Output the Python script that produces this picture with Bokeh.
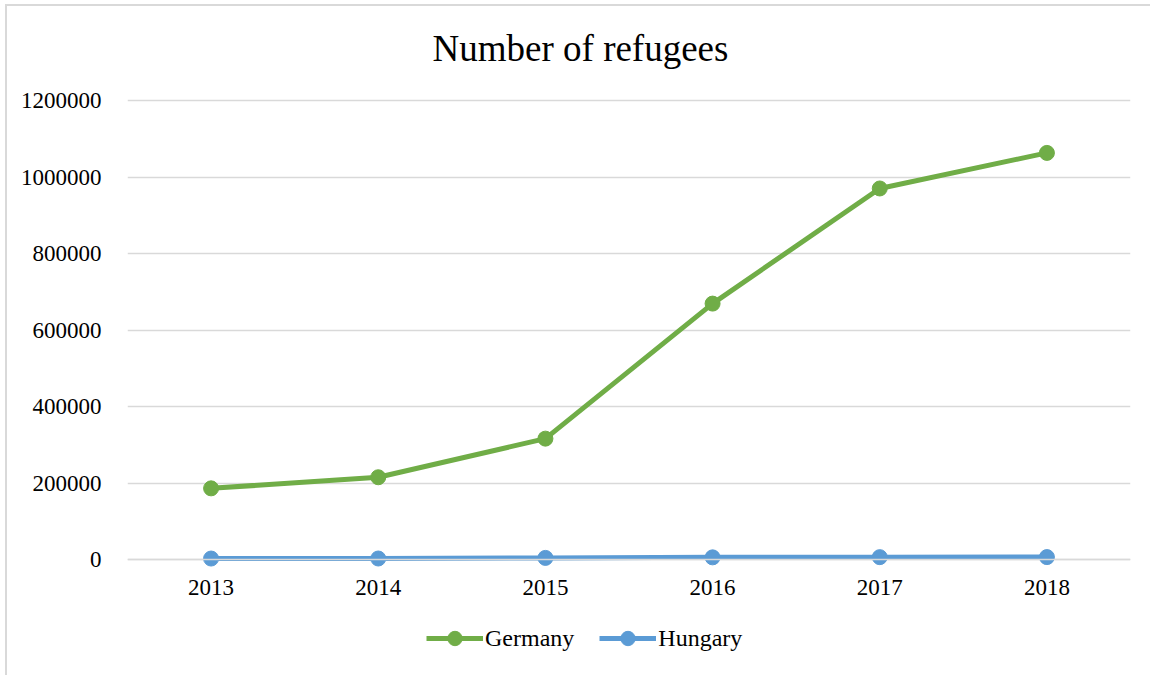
from bokeh.plotting import figure
from bokeh.models import Legend, LegendItem, Range1d, FixedTicker, NumeralTickFormatter, Label
from bokeh.embed import file_html
from bokeh.resources import INLINE

years = ["2013", "2014", "2015", "2016", "2017", "2018"]
germany = [186000, 215000, 316000, 669000, 970000, 1063000]
hungary = [2500, 2600, 4200, 5600, 6200, 6300]
y_ticks = [0, 200000, 400000, 600000, 800000, 1000000, 1200000]
title_text = "Number of refugees"

GREEN = "#70AD47"
BLUE = "#5B9BD5"
GRID = "#D9D9D9"
FONT = "Liberation Serif"

# frame spans the full height; the value axis occupies the middle band
FIG_H = 671
AXIS_TOP_PX = 94      # px from frame top to the 1200000 gridline
AXIS_BOT_PX = 553     # px from frame top to the 0 line
per_px = y_ticks[-1] / (AXIS_BOT_PX - AXIS_TOP_PX)
y_start = -(FIG_H - AXIS_BOT_PX) * per_px
y_end = y_ticks[-1] + AXIS_TOP_PX * per_px

p = figure(width=1145, height=FIG_H, x_range=years, y_range=Range1d(y_start, y_end),
           output_backend="svg", toolbar_location=None,
           min_border_left=120, min_border_right=22, min_border_top=0, min_border_bottom=0)
p.margin = (4, 0, 0, 5)
p.styles = {"border-top": "2px solid #D9D9D9", "border-left": "2px solid #D9D9D9"}
p.x_range.range_padding = 0
p.outline_line_color = None

gl = p.line(years, germany, line_color=GREEN, line_width=5)
gs = p.scatter(years, germany, size=15, fill_color=GREEN, line_color=GREEN)
hl = p.line(years, hungary, line_color=BLUE, line_width=5)
hs = p.scatter(years, hungary, size=15, fill_color=BLUE, line_color=BLUE)

p.xgrid.grid_line_color = None
p.ygrid.grid_line_color = GRID
p.ygrid.grid_line_width = 1.5
p.yaxis.ticker = FixedTicker(ticks=y_ticks)
p.yaxis.formatter = NumeralTickFormatter(format="0")
p.yaxis.axis_line_color = None
p.yaxis.major_tick_line_color = None
p.yaxis.minor_tick_line_color = None
p.yaxis.major_label_standoff = 20
p.xaxis.fixed_location = 0
p.xaxis.axis_line_color = GRID
p.xaxis.axis_line_width = 1.5
p.xaxis.major_tick_line_color = None
p.xaxis.minor_tick_line_color = None
p.xaxis.major_label_standoff = 14
for ax in (p.xaxis, p.yaxis):
    ax.major_label_text_font = FONT
    ax.major_label_text_font_size = "23px"
    ax.major_label_text_color = "black"

title = Label(x=453, y=FIG_H - 42, x_units="screen", y_units="screen", text=title_text,
              text_font=FONT, text_font_size="37px", text_color="black",
              text_align="center", text_baseline="alphabetic")
p.add_layout(title)

legend = Legend(items=[LegendItem(label="Germany", renderers=[gl, gs]),
                       LegendItem(label="Hungary", renderers=[hl, hs])],
                orientation="horizontal", location=(299, 21),
                glyph_width=57, glyph_height=36, label_standoff=2, spacing=25,
                label_text_font=FONT, label_text_font_size="24px", label_text_color="black",
                border_line_color=None, background_fill_alpha=0, margin=0, padding=0)
p.add_layout(legend, "center")

open("out.html", "w").write(file_html(p, INLINE))
